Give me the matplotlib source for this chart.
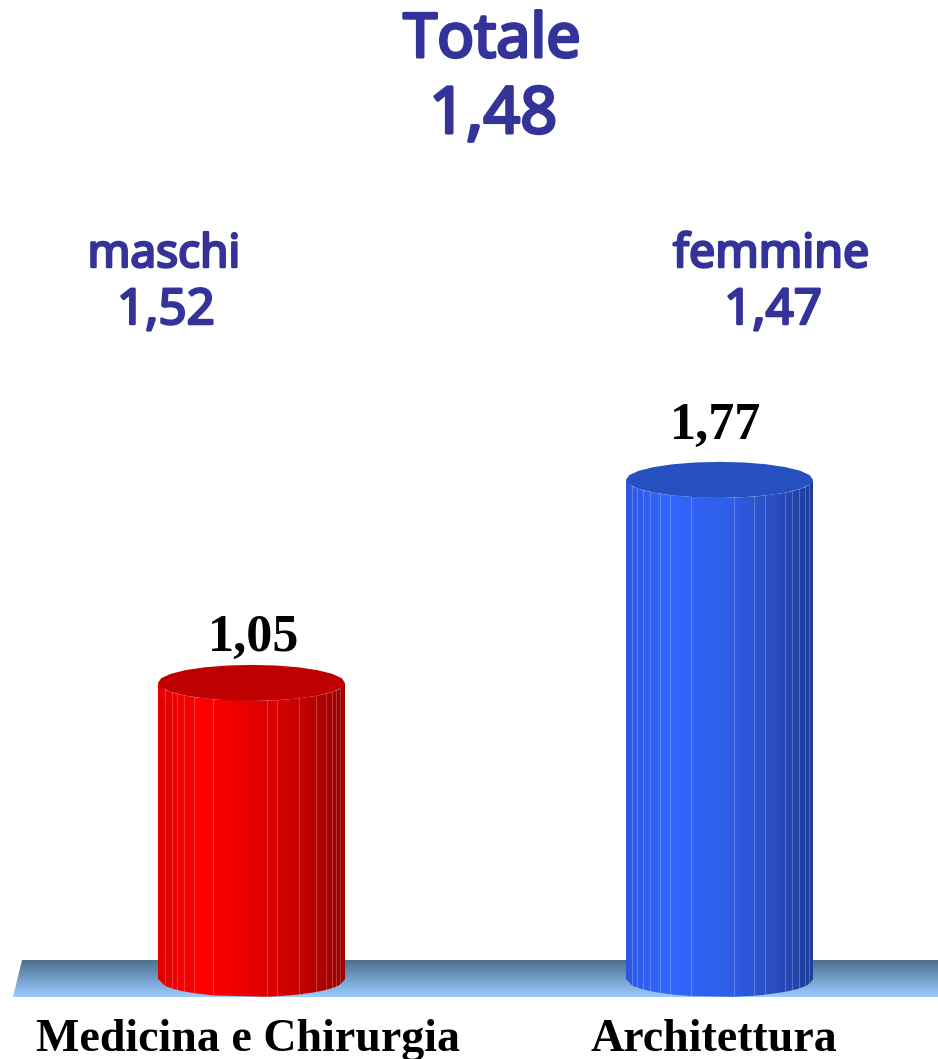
import matplotlib.pyplot as plt
import matplotlib.patheffects as pe
import numpy as np
from matplotlib.colors import LinearSegmentedColormap
from matplotlib.patches import Polygon

categories = ['Medicina e Chirurgia', 'Architettura']
values = [1.05, 1.77]
value_labels = ['1,05', '1,77']
label_gap = [0.1135, 0.145]
centers = [251.5, 719.5]
header_title = ['Totale', '1,48']
header_left = ['maschi', '1,52']
header_right = ['femmine', '1,47']

# facet edges seen on each cylinder, px from its left side
facets = [[0, 7, 14, 19, 26, 36, 55, 109, 119, 141, 158, 168, 174, 178, 182, 187],
          [0, 6, 11, 17, 24, 34, 44, 65, 108, 128, 139, 159, 166, 173, 179, 183, 187]]

W, H = 938, 1059
BASE_PX = 979
PX_PER_UNIT = 282.0
RX = 93.5
RY = 18.0 / PX_PER_UNIT
NAVY = '#333399'

red_stops = [(0, '#e00000'), (0.22, '#ff0000'), (0.45, '#ee0000'),
             (0.75, '#c80000'), (0.9, '#ac0000'), (1, '#980000')]
blue_stops = [(0, '#2c58e0'), (0.2, '#3366ff'), (0.55, '#2f5ee8'),
              (0.8, '#2a4cbc'), (0.93, '#2244a8'), (1, '#1e3c98')]
tops = ['#bf0000', '#2650bf']
stops = [red_stops, blue_stops]

fig = plt.figure(figsize=(W / 100, H / 100), dpi=100)
ax = fig.add_axes([0, 0, 1, 1])
ax.set_xlim(0, W)
ax.set_ylim((BASE_PX - H) / PX_PER_UNIT, BASE_PX / PX_PER_UNIT)
ax.axis('off')


def px(y):
    return (BASE_PX - y) / PX_PER_UNIT


# floor strip
floor_cmap = LinearSegmentedColormap.from_list('floor', ['#4f6f8f', '#99ccff'])
floor_top = px(960)
floor_bot = px(997)
im = ax.imshow(np.linspace(0, 1, 64).reshape(-1, 1), cmap=floor_cmap, aspect='auto',
               extent=(0, W, floor_bot, floor_top), zorder=1)
floor = Polygon([(22, floor_top), (W, floor_top), (W, floor_bot), (13, floor_bot)],
                closed=True, fc='none', ec='none', transform=ax.transData)
ax.add_patch(floor)
im.set_clip_path(floor)

# cylinders
for i, (cx, val, st, top_col) in enumerate(zip(centers, values, stops, tops)):
    cmap = LinearSegmentedColormap.from_list('cyl', st)
    ex = cx - RX + np.array(facets[i], dtype=float)
    ey = -RY * np.sqrt(np.clip(1 - ((ex - cx) / RX) ** 2, 0, 1))
    outline = list(zip(ex, ey + val)) + list(zip(ex[::-1], ey[::-1]))
    im = ax.imshow(np.linspace(0, 1, 256).reshape(1, -1), cmap=cmap, aspect='auto',
                   extent=(cx - RX, cx + RX, -RY, val + RY), zorder=2)
    body = Polygon(outline, closed=True, fc='none', ec='none', transform=ax.transData)
    ax.add_patch(body)
    im.set_clip_path(body)
    for x, y in zip(ex[1:-1], ey[1:-1]):
        ax.plot([x, x], [y, val + y], color='white', alpha=0.22, lw=0.8, zorder=3)
    tt = np.linspace(0, 2 * np.pi, 25)
    ax.add_patch(Polygon(list(zip(cx + RX * np.cos(tt), val + RY * np.sin(tt))),
                         closed=True, fc=top_col, ec='none', zorder=4))
    ax.text([254, 716][i], val + label_gap[i], value_labels[i], ha='center', va='baseline',
            family='Liberation Serif', weight='bold', size=37.5, color='black', zorder=5)

for cx, name in zip([248, 713.5], categories):
    ax.text(cx, px(1051), name, ha='center', va='baseline', family='Liberation Serif',
            weight='bold', size=33, color='black')

# Noto Sans here has no bold face, a thin stroke thickens it
for x, y, s, size, lw in [(492, 57, header_title[0], 44, 2.2), (493, 133, header_title[1], 46.5, 2.2),
                          (164, 267, header_left[0], 33, 1.8), (166, 324, header_left[1], 35.5, 1.8),
                          (771, 267, header_right[0], 33.5, 1.8), (773, 324, header_right[1], 35.5, 1.8)]:
    ax.text(x, px(y), s, ha='center', va='baseline', family='Noto Sans', size=size, color=NAVY,
            path_effects=[pe.withStroke(linewidth=lw, foreground=NAVY)])

plt.savefig('out.png', dpi=100)
